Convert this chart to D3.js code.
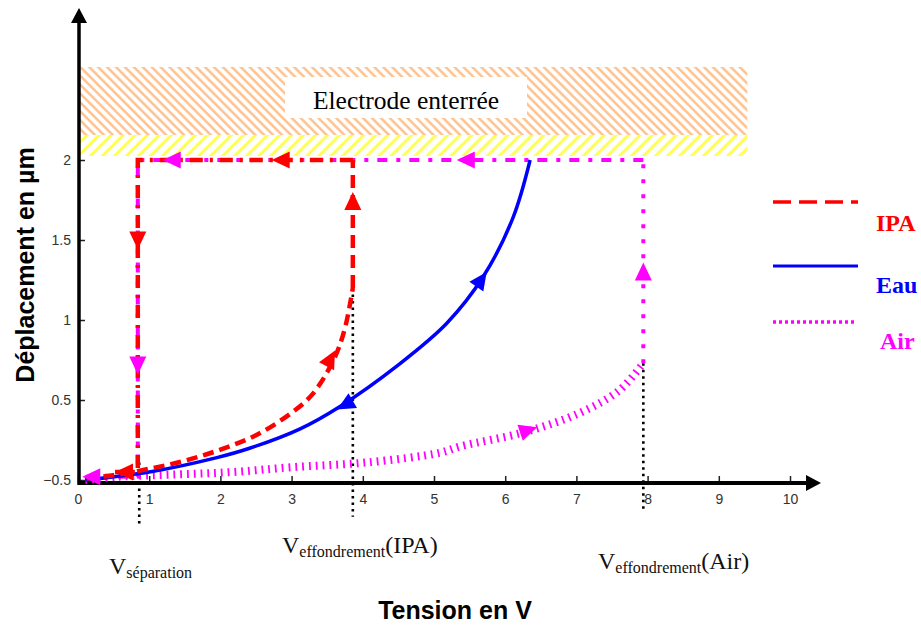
<!DOCTYPE html>
<html><head><meta charset="utf-8">
<script src="https://cdn.jsdelivr.net/npm/d3@7/dist/d3.min.js"></script>
<style>body{margin:0;background:#fff}svg{display:block}</style>
</head><body>
<script>
// ---- data (x in V, y in axis units; y tick labels are as printed) ----
const xTicks = [0,1,2,3,4,5,6,7,8,9,10];
const yTickValues = [0,0.5,1,1.5,2];
const yTickLabels = ["\u22120.5","0.5","1","1.5","2"];
const seriesNames = ["IPA","Eau","Air"];
const seriesColors = ["#ff0000","#0000ff","#ff00ff"];
const ipaCurve = [[0.12,0.01],[0.5,0.03],[1,0.07],[1.5,0.12],[2,0.19],[2.5,0.28],[3,0.42],[3.3,0.54],[3.6,0.76],[3.75,0.95],[3.86,1.2]];
const eauCurve = [[0.1,0.0],[1,0.05],[1.95,0.14],[2.42,0.2],[3.12,0.32],[3.68,0.46],[4.5,0.72],[5.18,0.98],[5.69,1.27],[6.11,1.64],[6.35,2.0]];
const airCurve = [[0.1,0.0],[0.55,0.02],[1.4,0.035],[2.18,0.05],[3,0.08],[4.06,0.11],[5.08,0.17],[5.37,0.21],[6.28,0.3],[7.05,0.42],[7.6,0.56],[7.94,0.73]];
const vSep = 0.84, vIPA = 3.86, vAir = 7.94, yTop = 2;
const ipaJump = [[vIPA,1.2],[vIPA,yTop]];
const ipaReturn = [[vIPA,yTop],[vSep,yTop],[vSep,0.05],[0.52,0.05]];
const airJump = [[vAir,0.73],[vAir,yTop]];
const airReturn = [[vAir,yTop],[vSep,yTop],[vSep,0.02],[0.06,0.02]];
const markers = [[0.86,0.11,-0.28],[3.86,1.2,-0.23],[7.94,0.73,-0.2]];
// arrows: [x, y, direction deg (0=right, -90=up), series index]
const arrows = [
  [3.61,0.81,-62,0],[3.86,1.8,-90,0],[2.72,2,180,0],[vSep,1.44,90,0],[0.52,0.05,180,0],
  [3.64,0.44,150,1],[5.74,1.3,-55,1],
  [6.45,0.33,-18,2],[7.94,1.36,-90,2],[5.32,2,180,2],[1.19,2,180,2],[vSep,0.66,90,2],[0.06,0.02,180,2]
];

const W=921,H=626;
const svg=d3.select("body").append("svg").attr("width",W).attr("height",H);
const x=d3.scaleLinear().domain([0,10]).range([78,790]);
const y=d3.scaleLinear().domain([0,2]).range([480,160]);
const axisY = 483;

// patterns
const defs=svg.append("defs");
function hatch(id,color,size,sw,rot){
  const p=defs.append("pattern").attr("id",id).attr("patternUnits","userSpaceOnUse")
    .attr("width",size).attr("height",size).attr("patternTransform",`rotate(${rot})`);
  p.append("line").attr("x1",size/2).attr("x2",size/2).attr("y1",-1).attr("y2",size+1)
    .attr("stroke",color).attr("stroke-width",sw);
}
hatch("hOrange","#ffc08a",6.3,2.4,-45);
hatch("hYellow","#ffff50",8.5,3,45);

svg.append("rect").attr("x",x(0)+2).attr("y",67).attr("width",x(9.4)-x(0)-2).attr("height",68).attr("fill","url(#hOrange)");
svg.append("rect").attr("x",x(0)+2).attr("y",135).attr("width",x(9.4)-x(0)-2).attr("height",21).attr("fill","url(#hYellow)");
svg.append("rect").attr("x",285).attr("y",77).attr("width",242).attr("height",41).attr("fill","#fff");
const serif="Liberation Serif, Times New Roman, serif";
svg.append("text").attr("x",406).attr("y",109).attr("text-anchor","middle")
  .attr("font-family",serif).attr("font-size",25.5).text("Electrode enterrée");

// axes
const gx=svg.append("g").attr("transform",`translate(0,${axisY})`)
  .call(d3.axisBottom(x).tickValues(xTicks).tickSizeInner(-7).tickSizeOuter(0).tickPadding(9));
const gy=svg.append("g").attr("transform",`translate(${x(0)+1},0)`)
  .call(d3.axisLeft(y).tickValues(yTickValues).tickFormat((d,i)=>yTickLabels[i]).tickSizeInner(-6).tickSizeOuter(0).tickPadding(8));
[gx,gy].forEach(g=>{
  g.select(".domain").remove();
  g.selectAll(".tick line").attr("stroke","#222").attr("stroke-width",1.5);
  g.selectAll(".tick text").attr("font-family","Liberation Sans, Arial, sans-serif").attr("font-size",14).attr("fill","#333");
});
gx.selectAll(".tick text").attr("dy","0.85em");
// axis lines with arrows
svg.append("line").attr("x1",x(0)).attr("x2",810).attr("y1",axisY).attr("y2",axisY).attr("stroke","#000").attr("stroke-width",4);
svg.append("path").attr("d",`M821,${axisY} L806,${axisY-8} L806,${axisY+8} Z`).attr("fill","#000");
svg.append("line").attr("x1",x(0)+1).attr("x2",x(0)+1).attr("y1",axisY+2).attr("y2",20).attr("stroke","#000").attr("stroke-width",3.5);
svg.append("path").attr("d",`M${x(0)+1},8 L${x(0)-7},23 L${x(0)+9},23 Z`).attr("fill","#000");

// markers (black dotted)
svg.selectAll("line.mk").data(markers).join("line").attr("class","mk")
  .attr("x1",d=>x(d[0])).attr("x2",d=>x(d[0])).attr("y1",d=>y(d[1])).attr("y2",d=>y(d[2]))
  .attr("stroke","#000").attr("stroke-width",2.6).attr("stroke-dasharray","2.5,4");

const line=d3.line().x(d=>x(d[0])).y(d=>y(d[1]));
const curve=d3.line().x(d=>x(d[0])).y(d=>y(d[1])).curve(d3.curveCatmullRom.alpha(0.5));

// Air
svg.append("path").attr("d",curve(airCurve)).attr("fill","none").attr("stroke",seriesColors[2]).attr("stroke-width",8).attr("stroke-dasharray","1.8,5");
svg.append("path").attr("d",line(airJump)).attr("fill","none").attr("stroke",seriesColors[2]).attr("stroke-width",4).attr("stroke-dasharray","4,11");
svg.append("path").attr("d",line(airReturn)).attr("fill","none").attr("stroke",seriesColors[2]).attr("stroke-width",4).attr("stroke-dasharray","10,9,4,9");
// Eau
svg.append("path").attr("d",curve(eauCurve)).attr("fill","none").attr("stroke",seriesColors[1]).attr("stroke-width",3.5);
// IPA
svg.append("path").attr("d",curve(ipaCurve)).attr("fill","none").attr("stroke",seriesColors[0]).attr("stroke-width",4.5).attr("stroke-dasharray","11,6");
svg.append("path").attr("d",line(ipaJump)).attr("fill","none").attr("stroke",seriesColors[0]).attr("stroke-width",4.5).attr("stroke-dasharray","13,7");
svg.append("path").attr("d",line(ipaReturn)).attr("fill","none").attr("stroke",seriesColors[0]).attr("stroke-width",4.5).attr("stroke-dasharray","13,7,3,7");

// arrows
svg.selectAll("path.arr").data(arrows).join("path").attr("class","arr")
  .attr("d","M0,0 L-18,-8.5 L-18,8.5 Z")
  .attr("transform",d=>`translate(${x(d[0])},${y(d[1])}) rotate(${d[2]})`)
  .attr("fill",d=>seriesColors[d[3]]);

// legend
const lg=svg.append("g");
const legendY=[202,266,322];
const legendDash=["18,8",null,"3,3"];
const legendLen=[85,85,81];
const legendTextY=[231,293,349];
const legendTextX=[876,876,880];
seriesNames.forEach((n,i)=>{
  lg.append("line").attr("x1",773).attr("x2",773+legendLen[i]).attr("y1",legendY[i]).attr("y2",legendY[i])
    .attr("stroke",seriesColors[i]).attr("stroke-width",i===1?3:3.5).attr("stroke-dasharray",legendDash[i]);
  lg.append("text").attr("x",legendTextX[i]).attr("y",legendTextY[i]).attr("fill",seriesColors[i])
    .attr("font-family",serif).attr("font-weight","bold").attr("font-size",24).text(n);
});

// annotations
function vlabel(px,py,sub,tail){
  const t=svg.append("text").attr("x",px).attr("y",py).attr("font-family",serif).attr("font-size",24).attr("fill","#111");
  t.append("tspan").text("V");
  t.append("tspan").attr("font-size",16).attr("dy",4).text(sub);
  if(tail) t.append("tspan").attr("dy",-4).text(tail);
}
vlabel(109,574,"séparation",null);
vlabel(282,553,"effondrement","(IPA)");
vlabel(598,569,"effondrement","(Air)");

// axis titles
svg.append("text").attr("x",455).attr("y",619).attr("text-anchor","middle")
  .attr("font-family","Liberation Sans, Arial, sans-serif").attr("font-weight","bold").attr("font-size",25).text("Tension en V");
svg.append("text").attr("transform","translate(34,265) rotate(-90)").attr("text-anchor","middle")
  .attr("font-family","Liberation Sans, Arial, sans-serif").attr("font-weight","bold").attr("font-size",25).text("Déplacement en µm");
</script>
</body></html>
